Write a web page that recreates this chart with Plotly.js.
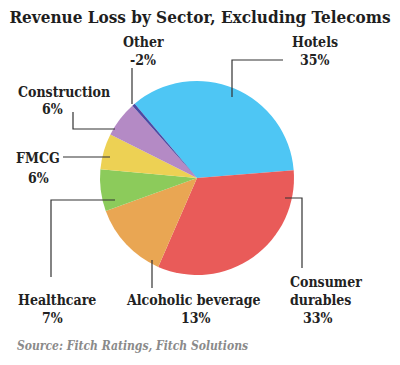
<!DOCTYPE html>
<html>
<head>
<meta charset="utf-8">
<script src="https://cdn.plot.ly/plotly-3.0.1.min.js"></script>
<style>
html,body{margin:0;padding:0;background:#fff;}
#chart{width:400px;height:365px;}
</style>
</head>
<body>
<div id="chart"></div>
<script>
// Data
var sectors = ["Hotels", "Consumer durables", "Alcoholic beverage", "Healthcare", "FMCG", "Construction", "Other"];
var shares = [35, 33, 13, 7, 6, 6, -2];
// slice sizes as drawn in the original (the negative "Other" is drawn as a thin sliver)
var sliceSizes = [35, 33, 13, 7, 6, 6, 0.5];
var sliceColors = ["#4EC6F4", "#E95B59", "#E9A653", "#8CCB5B", "#EDD154", "#B48AC5", "#4B4AA3"];

var W = 400, H = 365;
function px(x){ return x / W; }
function py(y){ return 1 - y / H; }

var trace = {
  type: "pie",
  labels: sectors,
  values: sliceSizes,
  marker: { colors: sliceColors, line: { width: 0 } },
  sort: false,
  direction: "clockwise",
  rotation: -40,
  textinfo: "none",
  hoverinfo: "none",
  showlegend: false,
  domain: { x: [px(100), px(294)], y: [py(275), py(81)] }
};

var FAM = "DejaVu Serif Condensed, DejaVu Serif, serif";
var labelFont = { family: FAM, size: 14, color: "#222" };

// name position, value position (pixel centres)
var labelPos = [
  { i: 0, name: [315, 42], val: [315, 60] },
  { i: 1, name: [288, 282, "left"], name2: [288, 300, "left"], val: [318, 318] },
  { i: 2, name: [193, 300], val: [196, 318] },
  { i: 3, name: [57, 300], val: [52, 318] },
  { i: 4, name: [38, 158], val: [38, 178] },
  { i: 5, name: [64, 92], val: [52, 109] },
  { i: 6, name: [143, 42], val: [143, 60] }
];

function ann(text, p){
  return {
    xref: "paper", yref: "paper",
    x: px(p[0]), y: py(p[1]),
    xanchor: p[2] || "center", yanchor: "middle",
    text: "<b>" + text + "</b>",
    showarrow: false,
    font: labelFont
  };
}

var annotations = [];
labelPos.forEach(function(p){
  var nm = sectors[p.i];
  if (p.name2) {
    var parts = nm.split(" ");
    annotations.push(ann(parts[0], p.name));
    annotations.push(ann(parts.slice(1).join(" "), p.name2));
  } else {
    annotations.push(ann(nm, p.name));
  }
  annotations.push(ann(shares[p.i] + "%", p.val));
});

annotations.push({
  xref: "paper", yref: "paper",
  x: px(15), y: py(346),
  xanchor: "left", yanchor: "middle",
  text: "<b><i>Source: Fitch Ratings, Fitch Solutions</i></b>",
  showarrow: false,
  font: { family: FAM, size: 12, color: "#8a8a8a" }
});

// leader lines (pixel paths)
var leaders = [
  [[283, 60], [232, 60], [232, 97]],
  [[285, 198], [302, 198], [302, 268]],
  [[152, 260], [152, 288]],
  [[115, 200], [51, 200], [51, 277]],
  [[63, 157], [110, 157]],
  [[73, 112], [73, 129], [115, 129]],
  [[132, 68], [132, 104]]
];

var shapes = leaders.map(function(pts){
  var d = pts.map(function(p, k){ return (k ? "L" : "M") + px(p[0]) + "," + py(p[1]); }).join(" ");
  return { type: "path", xref: "paper", yref: "paper", path: d, line: { color: "#333", width: 1.2 } };
});

var layout = {
  width: W, height: H,
  margin: { l: 0, r: 0, t: 0, b: 0 },
  paper_bgcolor: "#fff",
  title: {
    text: "<b>Revenue Loss by Sector, Excluding Telecoms</b>",
    x: 0.5, xanchor: "center", y: py(17), yanchor: "middle", yref: "paper",
    font: { family: FAM, size: 17, color: "#1e1e1e" }
  },
  annotations: annotations,
  shapes: shapes
};

Plotly.newPlot("chart", [trace], layout, { staticPlot: true });
</script>
</body>
</html>
